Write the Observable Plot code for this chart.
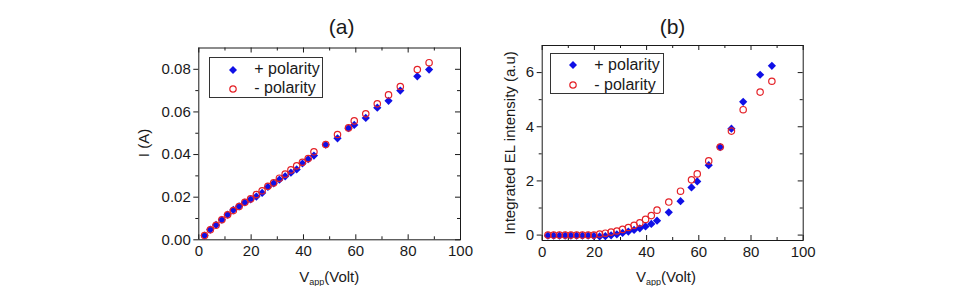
<!DOCTYPE html>
<html>
<head>
<meta charset="utf-8">
<script src="https://cdn.jsdelivr.net/npm/d3@7"></script>
<script src="https://cdn.jsdelivr.net/npm/@observablehq/plot@0.6"></script>
<style>
  body { margin: 0; background: #fff; }
  #fig { position: relative; width: 961px; height: 286px; overflow: hidden;
         font-family: "Liberation Sans", Arial, sans-serif; color: #1a1a1a; }
  .panel { position: absolute; top: 0; overflow: visible; }
  .title { position: absolute; font-size: 21px; line-height: 21px; transform: translate(-50%, -50%); }
  .xlab { position: absolute; font-size: 15px; line-height: 15px; white-space: nowrap; transform: translate(-50%, 0); }
  .xlab sub { font-size: 9px; vertical-align: -3px; line-height: 0; }
  .ylab { position: absolute; font-size: 15px; line-height: 15px; white-space: nowrap;
          transform: translate(-50%, -50%) rotate(-90deg); }
  .legend { position: absolute; box-sizing: border-box; border: 1px solid #333; background: #fff; }
  .legend svg { position: absolute; overflow: visible; }
  .legend span { position: absolute; font-size: 16px; line-height: 16px; white-space: nowrap; }
</style>
</head>
<body>
<div id="fig"></div>
<script>
// Applied voltage (V) at each measurement step
const voltage = [2.2, 4.4, 6.6, 8.8, 11.0, 13.2, 15.4, 17.6, 19.8, 22.0,
                 24.2, 26.4, 28.6, 30.8, 33.0, 35.2, 37.4, 39.6, 41.8, 44.0,
                 48.5, 53.0, 57.2, 59.4, 63.8, 68.2, 72.5, 77.0, 83.5, 88.0];

// Current I (A), positive and negative polarity
const currentPos = [0.0020, 0.0048, 0.0070, 0.0094, 0.0118, 0.0140, 0.0157, 0.0175, 0.0190, 0.0203,
                    0.0220, 0.0248, 0.0265, 0.0282, 0.0298, 0.0315, 0.0330, 0.0358, 0.0378, 0.0395,
                    0.0446, 0.0476, 0.0524, 0.0539, 0.0572, 0.0620, 0.0652, 0.0700, 0.0767, 0.0799];
const currentNeg = [0.0020, 0.0047, 0.0068, 0.0094, 0.0117, 0.0137, 0.0156, 0.0176, 0.0192, 0.0212,
                    0.0230, 0.0251, 0.0267, 0.0289, 0.0308, 0.0328, 0.0347, 0.0364, 0.0381, 0.0413,
                    0.0447, 0.0494, 0.0525, 0.0558, 0.0591, 0.0638, 0.0680, 0.0719, 0.0799, 0.0831];

// Integrated EL intensity (a.u), positive and negative polarity
const elPos = [-0.02, -0.02, -0.02, -0.02, -0.02, -0.02, -0.02, -0.02, -0.03, -0.05,
               -0.04, -0.01, 0.03, 0.08, 0.13, 0.19, 0.25, 0.32, 0.41, 0.53,
               0.84, 1.25, 1.76, 1.98, 2.58, 3.25, 3.93, 4.92, 5.92, 6.25];
const elNeg = [0.00, 0.00, 0.00, 0.00, 0.00, 0.00, 0.00, 0.00, 0.00, 0.04,
               0.07, 0.11, 0.15, 0.21, 0.28, 0.36, 0.45, 0.58, 0.72, 0.92,
               1.22, 1.62, 2.04, 2.26, 2.74, 3.25, 3.84, 4.63, 5.28, 5.68];

// Axis ticks
const xMajor = [0, 20, 40, 60, 80, 100];
const xMinor = [10, 30, 50, 70, 90];
const yMajorA = [0, 0.02, 0.04, 0.06, 0.08];
const yMinorA = [0.01, 0.03, 0.05, 0.07];
const yMajorB = [0, 2, 4, 6];
const yMinorB = [1, 3, 5];

const seriesNames = ["+ polarity", "- polarity"];
const BLUE = "#1010e6";
const RED = "#e42228";
const INK = "#1a1a1a";

const fig = document.getElementById("fig");

function panel({left, width, height, margin, yDomain, yMajor, yMinor, yFormat, pos, neg}) {
  const fw = width - margin.left - margin.right;
  const fh = height - margin.top - margin.bottom;
  const rows = voltage.map((v, i) => ({v, pos: pos[i], neg: neg[i]}));
  const chart = Plot.plot({
    width, height,
    marginLeft: margin.left, marginRight: margin.right,
    marginTop: margin.top, marginBottom: margin.bottom,
    style: {fontFamily: '"Liberation Sans", Arial, sans-serif', fontSize: "15px", color: INK,
            background: "transparent", overflow: "visible"},
    x: {domain: [0, 100], label: null},
    y: {domain: yDomain, label: null},
    marks: [
      // left axis: outward ticks and labels
      Plot.axisY(yMajor, {anchor: "left", tickSize: 5, tickPadding: 3, tickFormat: yFormat, fontSize: 15, label: null}),
      Plot.axisY(yMinor, {anchor: "left", tickSize: 3, fill: "none", label: null}),
      // bottom axis labels, ticks pointing inward
      Plot.axisX(xMajor, {anchor: "bottom", tickSize: 0, tickPadding: 6, fontSize: 15, label: null, tickFormat: d => d}),
      Plot.tickX(xMajor, {x: d => d, insetTop: fh - 5, stroke: INK}),
      Plot.tickX(xMinor, {x: d => d, insetTop: fh - 3, stroke: INK}),
      // mirrored ticks on top and right edges
      Plot.tickX(xMajor, {x: d => d, insetBottom: fh - 5, stroke: INK}),
      Plot.tickX(xMinor, {x: d => d, insetBottom: fh - 3, stroke: INK}),
      Plot.tickY(yMajor, {y: d => d, insetLeft: fw - 5, stroke: INK}),
      Plot.tickY(yMinor, {y: d => d, insetLeft: fw - 3, stroke: INK}),
      Plot.frame({stroke: INK, strokeWidth: 1}),
      Plot.dot(rows, {x: "v", y: "pos", symbol: "diamond2", r: 3.7, fill: BLUE, stroke: null}),
      Plot.dot(rows, {x: "v", y: "neg", symbol: "circle", r: 3.2, fill: "none", stroke: RED, strokeWidth: 1.2})
    ]
  });
  chart.classList.add("panel");
  chart.style.left = left + "px";
  fig.appendChild(chart);
}

function addText(cls, html, x, y) {
  const d = document.createElement("div");
  d.className = cls;
  d.innerHTML = html;
  d.style.left = x + "px";
  d.style.top = y + "px";
  fig.appendChild(d);
}

function legend(x, y, w, h, markerX, textX, rowY) {
  const box = document.createElement("div");
  box.className = "legend";
  Object.assign(box.style, {left: x + "px", top: y + "px", width: w + "px", height: h + "px"});
  const glyphs = [
    `<path d="M0,-4L4,0L0,4L-4,0Z" fill="${BLUE}"/>`,
    `<circle r="3.2" fill="none" stroke="${RED}" stroke-width="1.2"/>`
  ];
  seriesNames.forEach((name, i) => {
    const s = document.createElementNS("http://www.w3.org/2000/svg", "svg");
    s.setAttribute("width", 1); s.setAttribute("height", 1);
    s.style.left = markerX + "px"; s.style.top = rowY[i] + "px";
    s.innerHTML = glyphs[i];
    box.appendChild(s);
    const t = document.createElement("span");
    t.textContent = name;
    t.style.left = textX + "px";
    t.style.top = (rowY[i] - 8.5) + "px";
    box.appendChild(t);
  });
  fig.appendChild(box);
}

// (a) current vs applied voltage
panel({
  left: 140, width: 330, height: 286,
  margin: {left: 58.3, right: 10, top: 47.5, bottom: 46.7},
  yDomain: [0, 0.09], yMajor: yMajorA, yMinor: yMinorA, yFormat: d3.format(".2f"),
  pos: currentPos, neg: currentNeg
});
// (b) integrated EL intensity vs applied voltage
panel({
  left: 490, width: 330, height: 286,
  margin: {left: 51.7, right: 17.3, top: 45, bottom: 46},
  yDomain: [-0.2, 7], yMajor: yMajorB, yMinor: yMinorB, yFormat: d => d,
  pos: elPos, neg: elNeg
});

addText("title", "(a)", 341.7, 25.5);
addText("title", "(b)", 672.5, 25.5);
addText("xlab", "V<sub>app</sub>(Volt)", 329.2, 269);
addText("xlab", "V<sub>app</sub>(Volt)", 666, 269);
addText("ylab", "I (A)", 143, 143);
addText("ylab", "Integrated EL intensity (a.u)", 508.5, 143);

legend(209, 56.7, 114, 41, 22.7, 44.3, [12.3, 31]);
legend(550, 53.3, 114, 41, 21.7, 43.3, [11, 31]);
</script>
</body>
</html>
